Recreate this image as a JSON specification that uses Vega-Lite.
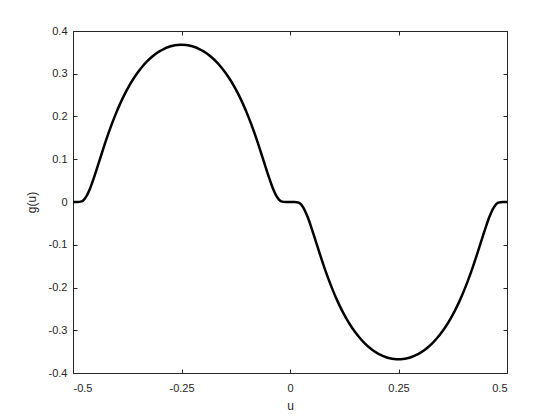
{
  "$schema": "https://vega.github.io/schema/vega-lite/v6.json",
  "width": 434,
  "height": 342,
  "autosize": {"type": "none"},
  "padding": {"left": 73, "top": 31, "right": 53, "bottom": 47},
  "background": "white",
  "config": {
    "view": {"stroke": "#262626", "strokeWidth": 1},
    "axis": {
      "domain": false,
      "grid": false,
      "tickColor": "#262626",
      "tickSize": -4,
      "tickWidth": 1,
      "labelColor": "#262626",
      "labelFont": "Liberation Sans",
      "labelFontSize": 11,
      "titleFont": "Liberation Sans",
      "titleFontSize": 12,
      "titleFontWeight": "normal",
      "titleColor": "#262626"
    }
  },
  "data": {
    "values": [
      {"u": -0.50, "g": 0},
      {"u": -0.49, "g": 0},
      {"u": -0.48, "g": 0.0015},
      {"u": -0.47, "g": 0.0119},
      {"u": -0.46, "g": 0.0335},
      {"u": -0.45, "g": 0.0622},
      {"u": -0.44, "g": 0.0937},
      {"u": -0.43, "g": 0.1254},
      {"u": -0.42, "g": 0.1557},
      {"u": -0.41, "g": 0.1838},
      {"u": -0.40, "g": 0.2096},
      {"u": -0.39, "g": 0.2330},
      {"u": -0.38, "g": 0.2540},
      {"u": -0.37, "g": 0.2727},
      {"u": -0.36, "g": 0.2894},
      {"u": -0.35, "g": 0.3041},
      {"u": -0.34, "g": 0.3170},
      {"u": -0.33, "g": 0.3282},
      {"u": -0.32, "g": 0.3379},
      {"u": -0.31, "g": 0.3461},
      {"u": -0.30, "g": 0.3529},
      {"u": -0.29, "g": 0.3583},
      {"u": -0.28, "g": 0.3625},
      {"u": -0.27, "g": 0.3655},
      {"u": -0.26, "g": 0.3673},
      {"u": -0.25, "g": 0.3679},
      {"u": -0.24, "g": 0.3673},
      {"u": -0.23, "g": 0.3655},
      {"u": -0.22, "g": 0.3625},
      {"u": -0.21, "g": 0.3583},
      {"u": -0.20, "g": 0.3529},
      {"u": -0.19, "g": 0.3461},
      {"u": -0.18, "g": 0.3379},
      {"u": -0.17, "g": 0.3282},
      {"u": -0.16, "g": 0.3170},
      {"u": -0.15, "g": 0.3041},
      {"u": -0.14, "g": 0.2894},
      {"u": -0.13, "g": 0.2727},
      {"u": -0.12, "g": 0.2540},
      {"u": -0.11, "g": 0.2330},
      {"u": -0.10, "g": 0.2096},
      {"u": -0.09, "g": 0.1838},
      {"u": -0.08, "g": 0.1557},
      {"u": -0.07, "g": 0.1254},
      {"u": -0.06, "g": 0.0937},
      {"u": -0.05, "g": 0.0622},
      {"u": -0.04, "g": 0.0335},
      {"u": -0.03, "g": 0.0119},
      {"u": -0.02, "g": 0.0015},
      {"u": -0.01, "g": 0},
      {"u": 0.00, "g": 0},
      {"u": 0.01, "g": 0},
      {"u": 0.02, "g": -0.0015},
      {"u": 0.03, "g": -0.0119},
      {"u": 0.04, "g": -0.0335},
      {"u": 0.05, "g": -0.0622},
      {"u": 0.06, "g": -0.0937},
      {"u": 0.07, "g": -0.1254},
      {"u": 0.08, "g": -0.1557},
      {"u": 0.09, "g": -0.1838},
      {"u": 0.10, "g": -0.2096},
      {"u": 0.11, "g": -0.2330},
      {"u": 0.12, "g": -0.2540},
      {"u": 0.13, "g": -0.2727},
      {"u": 0.14, "g": -0.2894},
      {"u": 0.15, "g": -0.3041},
      {"u": 0.16, "g": -0.3170},
      {"u": 0.17, "g": -0.3282},
      {"u": 0.18, "g": -0.3379},
      {"u": 0.19, "g": -0.3461},
      {"u": 0.20, "g": -0.3529},
      {"u": 0.21, "g": -0.3583},
      {"u": 0.22, "g": -0.3625},
      {"u": 0.23, "g": -0.3655},
      {"u": 0.24, "g": -0.3673},
      {"u": 0.25, "g": -0.3679},
      {"u": 0.26, "g": -0.3673},
      {"u": 0.27, "g": -0.3655},
      {"u": 0.28, "g": -0.3625},
      {"u": 0.29, "g": -0.3583},
      {"u": 0.30, "g": -0.3529},
      {"u": 0.31, "g": -0.3461},
      {"u": 0.32, "g": -0.3379},
      {"u": 0.33, "g": -0.3282},
      {"u": 0.34, "g": -0.3170},
      {"u": 0.35, "g": -0.3041},
      {"u": 0.36, "g": -0.2894},
      {"u": 0.37, "g": -0.2727},
      {"u": 0.38, "g": -0.2540},
      {"u": 0.39, "g": -0.2330},
      {"u": 0.40, "g": -0.2096},
      {"u": 0.41, "g": -0.1838},
      {"u": 0.42, "g": -0.1557},
      {"u": 0.43, "g": -0.1254},
      {"u": 0.44, "g": -0.0937},
      {"u": 0.45, "g": -0.0622},
      {"u": 0.46, "g": -0.0335},
      {"u": 0.47, "g": -0.0119},
      {"u": 0.48, "g": -0.0015},
      {"u": 0.49, "g": 0},
      {"u": 0.50, "g": 0}
    ]
  },
  "layer": [
    {
      "mark": {"type": "line", "color": "black", "strokeWidth": 2.5, "interpolate": "monotone", "clip": true},
      "encoding": {
        "x": {
          "field": "u", "type": "quantitative",
          "scale": {"domain": [-0.5, 0.5], "nice": false, "zero": false},
          "axis": {
            "orient": "bottom", "title": "u",
            "values": [-0.5, -0.25, 0, 0.25, 0.5],
            "labelExpr": "replace(format(datum.value, '~g'), '−', '-')",
            "labelPadding": 13, "titlePadding": 7
          }
        },
        "y": {
          "field": "g", "type": "quantitative",
          "scale": {"domain": [-0.4, 0.4], "nice": false, "zero": false},
          "axis": {
            "orient": "left", "title": "g(u)",
            "values": [-0.4, -0.3, -0.2, -0.1, 0, 0.1, 0.2, 0.3, 0.4],
            "labelExpr": "replace(format(datum.value, '~g'), '−', '-')",
            "labelPadding": 10, "titlePadding": 10
          }
        }
      }
    },
    {
      "mark": {"type": "line", "strokeOpacity": 0},
      "encoding": {
        "x": {
          "field": "u", "type": "quantitative",
          "axis": {"orient": "top", "title": null, "labels": false, "values": [-0.5, -0.25, 0, 0.25, 0.5]}
        },
        "y": {
          "field": "g", "type": "quantitative",
          "axis": {"orient": "right", "title": null, "labels": false, "values": [-0.4, -0.3, -0.2, -0.1, 0, 0.1, 0.2, 0.3, 0.4]}
        }
      }
    }
  ],
  "resolve": {"axis": {"x": "independent", "y": "independent"}}
}
